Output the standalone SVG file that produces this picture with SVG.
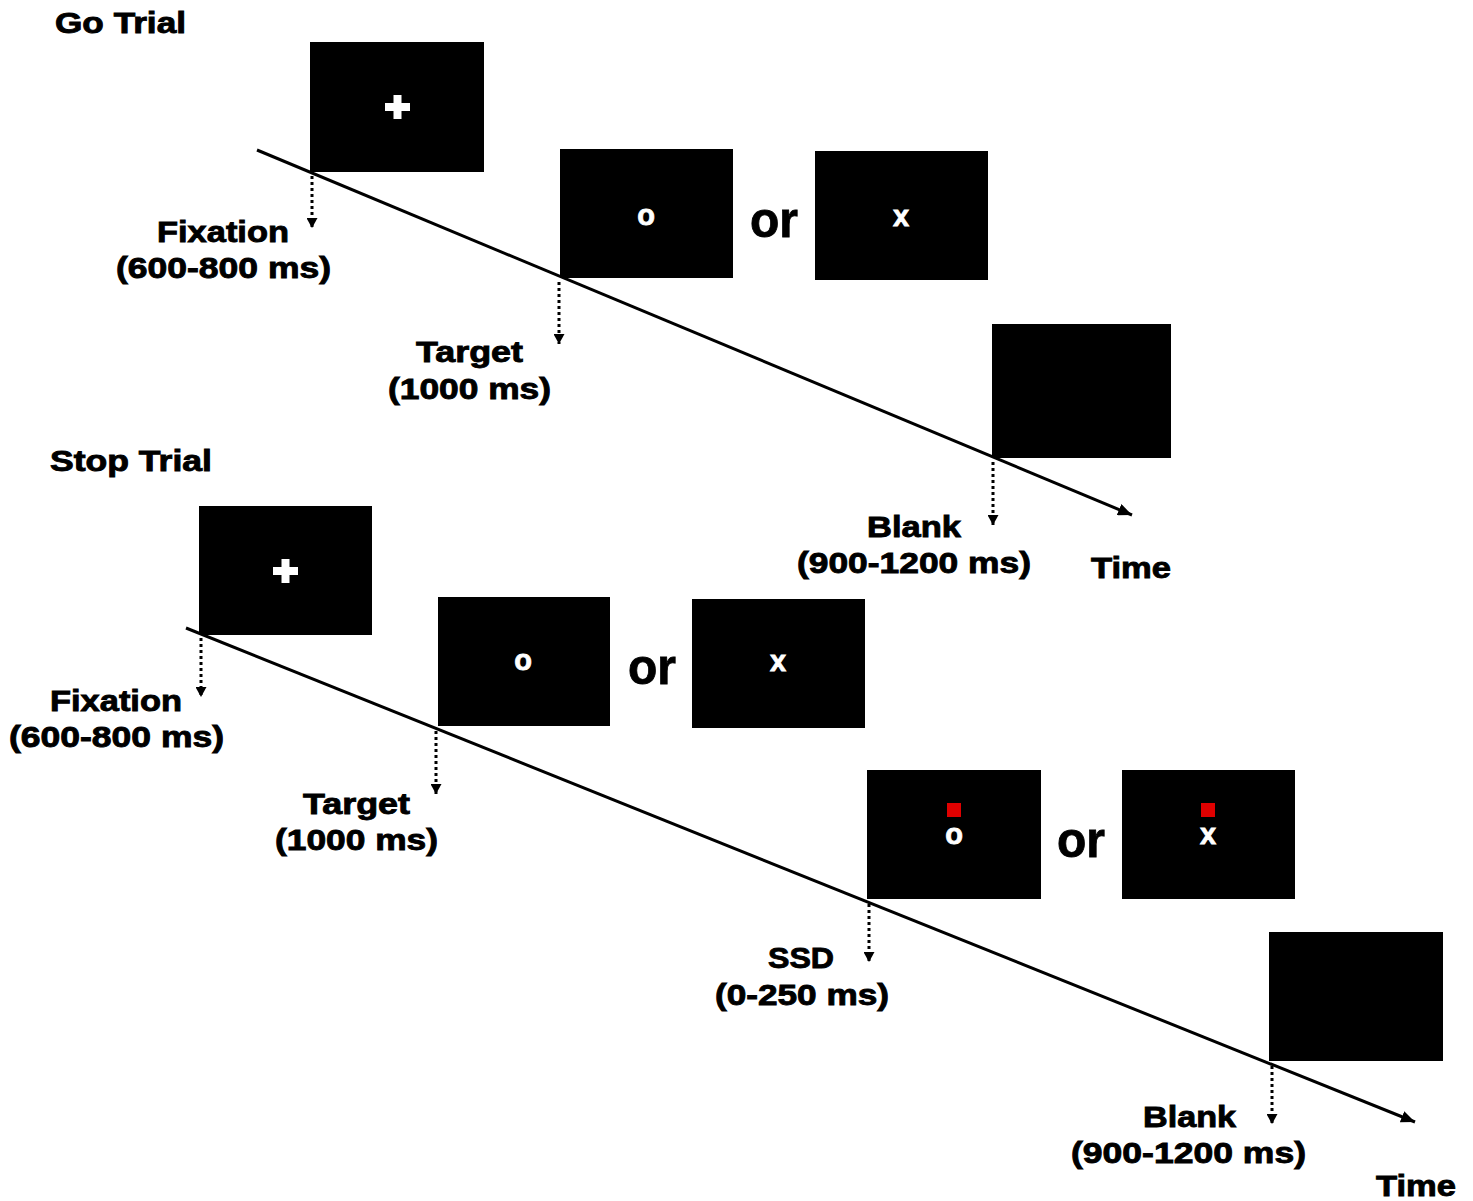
<svg xmlns="http://www.w3.org/2000/svg" width="1473" height="1201" viewBox="0 0 1473 1201">
<style>
.scr{fill:#000}
.lbl{font-family:"Liberation Sans",Arial,sans-serif;font-weight:bold;font-size:30px;fill:#000;stroke:#000;stroke-width:0.9}
.ttl{font-family:"Liberation Sans",Arial,sans-serif;font-weight:bold;font-size:29px;fill:#000;stroke:#000;stroke-width:0.9}
.or{font-family:"Liberation Sans",Arial,sans-serif;font-weight:bold;font-size:50px;fill:#000;stroke:#000;stroke-width:0.8}
.sym{font-family:"Liberation Sans",Arial,sans-serif;font-weight:bold;font-size:29px;fill:#fff;stroke:#fff;stroke-width:0.8;text-anchor:middle}
.tl{stroke:#000;stroke-width:3;fill:none}
.dot{stroke:#000;stroke-width:3;stroke-dasharray:3 3;fill:none}
</style>
<defs>
<marker id="ah" markerUnits="userSpaceOnUse" markerWidth="16" markerHeight="12" refX="14" refY="6" orient="auto">
<path d="M0,0 L14,6 L0,12 z" fill="#000"/>
</marker>
<marker id="dh" markerUnits="userSpaceOnUse" markerWidth="11" markerHeight="11" refX="10" refY="5.5" orient="auto">
<path d="M0,0 L10,5.5 L0,11 z" fill="#000"/>
</marker>
</defs>
<rect width="1473" height="1201" fill="#fff"/>

<g id="connectors">
<line class="tl" x1="257" y1="150" x2="1132" y2="515" marker-end="url(#ah)"/>
<line class="dot" x1="312" y1="176" x2="312" y2="228" marker-end="url(#dh)"/>
<line class="dot" x1="559" y1="282" x2="559" y2="344" marker-end="url(#dh)"/>
<line class="dot" x1="993" y1="462" x2="993" y2="525" marker-end="url(#dh)"/>
<line class="tl" x1="186" y1="628" x2="1415" y2="1122" marker-end="url(#ah)"/>
<line class="dot" x1="201" y1="638" x2="201" y2="697" marker-end="url(#dh)"/>
<line class="dot" x1="436" y1="731" x2="436" y2="794" marker-end="url(#dh)"/>
<line class="dot" x1="869" y1="904" x2="869" y2="962" marker-end="url(#dh)"/>
<line class="dot" x1="1272" y1="1066" x2="1272" y2="1124" marker-end="url(#dh)"/>
</g>

<g id="go-title"><text class="ttl" x="55" y="33" textLength="131" lengthAdjust="spacingAndGlyphs">Go Trial</text></g>

<g id="go-fixation">
<rect class="scr" x="310" y="42" width="174" height="130"/>
<rect x="385" y="103" width="25" height="8" fill="#fff"/>
<rect x="393.5" y="95" width="8" height="24" fill="#fff"/>
<text class="lbl" x="157" y="242" textLength="132" lengthAdjust="spacingAndGlyphs">Fixation</text>
<text class="lbl" x="116" y="278" textLength="215" lengthAdjust="spacingAndGlyphs">(600-800 ms)</text>
</g>

<g id="go-target">
<rect class="scr" x="560" y="149" width="173" height="129"/>
<text class="sym" x="646" y="225">o</text>
<text class="or" x="750" y="237" textLength="48" lengthAdjust="spacingAndGlyphs">or</text>
<rect class="scr" x="815" y="151" width="173" height="129"/>
<text class="sym" x="901" y="226">x</text>
<text class="lbl" x="416" y="362" textLength="107" lengthAdjust="spacingAndGlyphs">Target</text>
<text class="lbl" x="388" y="399" textLength="163" lengthAdjust="spacingAndGlyphs">(1000 ms)</text>
</g>

<g id="go-blank">
<rect class="scr" x="992" y="324" width="179" height="134"/>
<text class="lbl" x="867" y="537" textLength="94" lengthAdjust="spacingAndGlyphs">Blank</text>
<text class="lbl" x="797" y="573" textLength="234" lengthAdjust="spacingAndGlyphs">(900-1200 ms)</text>
<text class="lbl" x="1091" y="578" textLength="80" lengthAdjust="spacingAndGlyphs">Time</text>
</g>

<g id="stop-title"><text class="ttl" x="50" y="471" textLength="162" lengthAdjust="spacingAndGlyphs">Stop Trial</text></g>

<g id="stop-fixation">
<rect class="scr" x="199" y="506" width="173" height="129"/>
<rect x="273" y="567" width="25" height="8" fill="#fff"/>
<rect x="281.5" y="559" width="8" height="24" fill="#fff"/>
<text class="lbl" x="50" y="711" textLength="132" lengthAdjust="spacingAndGlyphs">Fixation</text>
<text class="lbl" x="9" y="747" textLength="215" lengthAdjust="spacingAndGlyphs">(600-800 ms)</text>
</g>

<g id="stop-target">
<rect class="scr" x="438" y="597" width="172" height="129"/>
<text class="sym" x="523" y="670">o</text>
<text class="or" x="628" y="684" textLength="48" lengthAdjust="spacingAndGlyphs">or</text>
<rect class="scr" x="692" y="599" width="173" height="129"/>
<text class="sym" x="778" y="671">x</text>
<text class="lbl" x="303" y="814" textLength="107" lengthAdjust="spacingAndGlyphs">Target</text>
<text class="lbl" x="275" y="850" textLength="163" lengthAdjust="spacingAndGlyphs">(1000 ms)</text>
</g>

<g id="stop-ssd">
<rect class="scr" x="867" y="770" width="174" height="129"/>
<rect x="947" y="803" width="14" height="14" fill="#e00000"/>
<text class="sym" x="954" y="844">o</text>
<text class="or" x="1057" y="857" textLength="48" lengthAdjust="spacingAndGlyphs">or</text>
<rect class="scr" x="1122" y="770" width="173" height="129"/>
<rect x="1201" y="803" width="14" height="14" fill="#e00000"/>
<text class="sym" x="1208" y="844">x</text>
<text class="lbl" x="768" y="968" textLength="66" lengthAdjust="spacingAndGlyphs">SSD</text>
<text class="lbl" x="715" y="1005" textLength="174" lengthAdjust="spacingAndGlyphs">(0-250 ms)</text>
</g>

<g id="stop-blank">
<rect class="scr" x="1269" y="932" width="174" height="129"/>
<text class="lbl" x="1143" y="1127" textLength="93" lengthAdjust="spacingAndGlyphs">Blank</text>
<text class="lbl" x="1071" y="1163" textLength="235" lengthAdjust="spacingAndGlyphs">(900-1200 ms)</text>
<text class="lbl" x="1376" y="1196" textLength="80" lengthAdjust="spacingAndGlyphs">Time</text>
</g>
</svg>
